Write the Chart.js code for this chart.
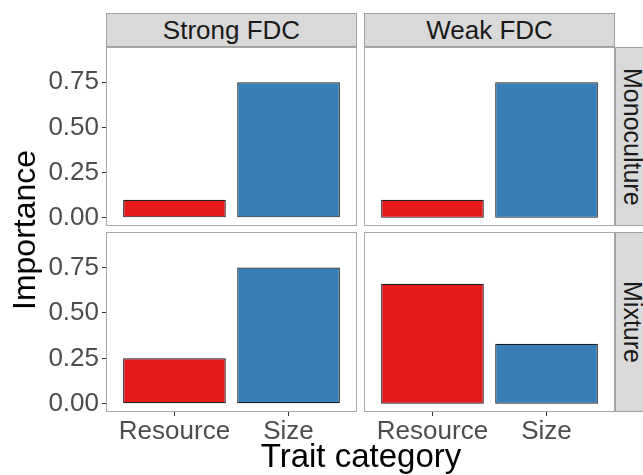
<!DOCTYPE html>
<html>
<head>
<meta charset="utf-8">
<script src="https://cdn.jsdelivr.net/npm/chart.js@4.4.1/dist/chart.umd.min.js"></script>
<style>
  body { margin:0; width:643px; height:475px; overflow:hidden; background:#fff; position:relative;
         font-family:"Liberation Sans", Arial, sans-serif; }
  canvas { position:absolute; }
  .strip { position:absolute; box-sizing:border-box; background:#d9d9d9; border:1px solid #a0a0a0;
           color:#1a1a1a; font-size:26px; display:flex; align-items:center; justify-content:center; white-space:nowrap; }
  .strip.side { writing-mode:vertical-rl; font-size:25px; }
  .title { position:absolute; color:#000; font-size:33px; line-height:33px; white-space:nowrap; }
</style>
</head>
<body>
<div class="strip" id="colA" style="left:106px;top:13px;width:251px;height:34px;"></div>
<div class="strip" id="colB" style="left:364px;top:13px;width:251px;height:34px;"></div>
<div class="strip side" id="rowA" style="left:615px;top:47px;width:34px;height:179px;"></div>
<div class="strip side" id="rowB" style="left:615px;top:232px;width:34px;height:180px;"></div>

<canvas id="tl" width="357" height="179" style="left:0;top:47px;"></canvas>
<canvas id="tr" width="251" height="179" style="left:364px;top:47px;"></canvas>
<canvas id="bl" width="357" height="220" style="left:0;top:232px;"></canvas>
<canvas id="br" width="251" height="220" style="left:364px;top:232px;"></canvas>

<div class="title" id="yTitle" style="left:24px;top:230px;transform:translate(-50%,-50%) rotate(-90deg);font-size:32px;line-height:32px;"></div>
<div class="title" id="xTitle" style="left:361px;top:439px;transform:translateX(-50%);"></div>

<script>
// facet labels
const fdcLevels = ['Strong FDC', 'Weak FDC'];
const communities = ['Monoculture', 'Mixture'];
const categories = ['Resource', 'Size'];

// importance per trait category (Resource, Size)
const strongMono = [0.10, 0.75];
const weakMono   = [0.10, 0.75];
const strongMix  = [0.25, 0.75];
const weakMix    = [0.66, 0.33];

const yTicks = [0, 0.25, 0.50, 0.75];
const barColors = ['#E41A1C', '#377EB8'];

document.getElementById('colA').textContent = fdcLevels[0];
document.getElementById('colB').textContent = fdcLevels[1];
document.getElementById('rowA').textContent = communities[0];
document.getElementById('rowB').textContent = communities[1];
document.getElementById('yTitle').textContent = 'Importance';
document.getElementById('xTitle').textContent = 'Trait category';

// grey frame round each panel, like theme_bw
const panelBorder = {
  id: 'panelBorder',
  afterDraw(chart){
    const {ctx, chartArea:a} = chart;
    ctx.save();
    ctx.strokeStyle = '#a8a8a8';
    ctx.lineWidth = 1;
    ctx.strokeRect(a.left + 0.5, a.top + 0.5, a.right - a.left - 1, a.bottom - a.top - 1);
    ctx.restore();
  }
};

function panelChart(id, values, showY, showX){
  const tickGrid = { drawOnChartArea:false, drawTicks:true, tickLength:4, color:'#333', lineWidth:1, offset:false };
  const tickFont = { size:26, family:'"Liberation Sans", Arial' };
  return new Chart(document.getElementById(id), {
    type: 'bar',
    data: {
      datasets: [{
        data: values.map((v, i) => ({ x: i + 1, y: v })),
        backgroundColor: barColors,
        borderColor: '#1f1f1f',
        borderWidth: 1.2,
        borderSkipped: false,
        categoryPercentage: 1,
        barPercentage: 0.9
      }]
    },
    options: {
      responsive: false,
      animation: false,
      layout: { padding: 0 },
      plugins: { legend: { display:false }, tooltip: { enabled:false } },
      scales: {
        x: {
          type: 'linear', min: 0.4, max: 2.6, offset: false, display: showX,
          afterBuildTicks: s => { s.ticks = categories.map((c, i) => ({ value: i + 1 })); },
          afterFit: s => { if (showX) s.height = 40; s.paddingLeft = 0; s.paddingRight = 0; },
          grid: tickGrid,
          border: { display:false },
          ticks: { callback: v => categories[v - 1], color:'#4d4d4d', font:tickFont,
                   padding: 0, maxRotation: 0, autoSkip: false }
        },
        y: {
          min: -0.045, max: 0.945, display: showY,
          afterBuildTicks: s => { s.ticks = yTicks.map(v => ({ value: v })); },
          afterFit: s => { if (showY) s.width = 106; s.paddingTop = 0; s.paddingBottom = 0; },
          grid: tickGrid,
          border: { display:false },
          ticks: { callback: v => v.toFixed(2), color:'#4d4d4d', font:tickFont, padding: 3 }
        }
      }
    },
    plugins: [panelBorder]
  });
}

panelChart('tl', strongMono, true, false);
panelChart('tr', weakMono, false, false);
panelChart('bl', strongMix, true, true);
panelChart('br', weakMix, false, true);
</script>
</body>
</html>
